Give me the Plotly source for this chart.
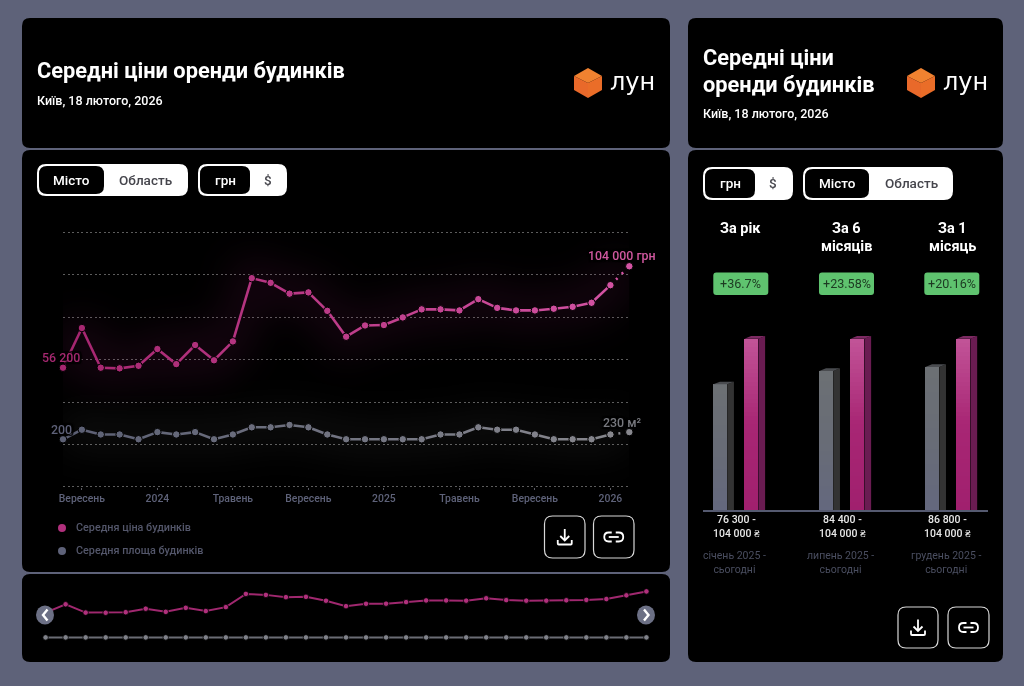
import plotly.graph_objects as go

# data
months = ['2023-08', '2023-09', '2023-10', '2023-11', '2023-12', '2024-01', '2024-02', '2024-03',
          '2024-04', '2024-05', '2024-06', '2024-07', '2024-08', '2024-09', '2024-10', '2024-11',
          '2024-12', '2025-01', '2025-02', '2025-03', '2025-04', '2025-05', '2025-06', '2025-07',
          '2025-08', '2025-09', '2025-10', '2025-11', '2025-12', '2026-01', '2026-02']
price = [56200, 74900, 56200, 55900, 57100, 65000, 57900, 66900, 59700, 68600, 98400, 96200, 91100, 91700,
         83000, 70800, 76100, 76300, 79900, 83700, 83700, 83200, 88500, 84400, 83200, 83200, 84000, 84900,
         86800, 95100, 104000]
area = [200, 240, 220, 220, 200, 230, 220, 230, 200, 220, 250, 250, 260, 250, 220, 200, 200, 200, 200, 200,
        220, 220, 250, 240, 240, 220, 200, 200, 200, 220, 230]
tick_months = ['2023-09', '2024-01', '2024-05', '2024-09', '2025-01', '2025-05', '2025-09', '2026-01']
tick_labels = ['Вересень', '2024', 'Травень', 'Вересень', '2025', 'Травень', 'Вересень', '2026']
y_ticks = [0, 20000, 40000, 60000, 80000, 100000, 120000]

period_titles = [['За рік'], ['За 6', 'місяців'], ['За 1', 'місяць']]
period_changes = ['+36.7%', '+23.58%', '+20.16%']
period_start = [76300, 84400, 86800]
period_end = [104000, 104000, 104000]
period_ranges = ['76 300 -<br>104 000 ₴', '84 400 -<br>104 000 ₴', '86 800 -<br>104 000 ₴']
period_names = ['січень 2025 -<br>сьогодні', 'липень 2025 -<br>сьогодні', 'грудень 2025 -<br>сьогодні']

BG = '#5e6279'
FONT = 'Roboto'
W, H = 1024, 686


def fx(x):
    return x / W


def fy(y):
    return 1 - y / H


def pt(x, y):
    return f'{fx(x):.5f},{fy(y):.5f}'


def rounded(x0, y0, x1, y1, r):
    return ('M' + pt(x0 + r, y0) + ' L' + pt(x1 - r, y0) + ' Q' + pt(x1, y0) + ' ' + pt(x1, y0 + r)
            + ' L' + pt(x1, y1 - r) + ' Q' + pt(x1, y1) + ' ' + pt(x1 - r, y1)
            + ' L' + pt(x0 + r, y1) + ' Q' + pt(x0, y1) + ' ' + pt(x0, y1 - r)
            + ' L' + pt(x0, y0 + r) + ' Q' + pt(x0, y0) + ' ' + pt(x0 + r, y0) + ' Z')


def mix(a, b, t):
    return 'rgb(%d,%d,%d)' % tuple(round(a[i] + (b[i] - a[i]) * t) for i in range(3))


shapes = []
annotations = []


def box(x0, y0, x1, y1, r, fill='#000000', line=None, width=0, layer='below'):
    shapes.append(dict(type='path', path=rounded(x0, y0, x1, y1, r), xref='paper', yref='paper',
                       fillcolor=fill, line=dict(color=line or fill, width=width), layer=layer))


def stroke(path, color='#ffffff', width=1.8, layer='below'):
    shapes.append(dict(type='path', path=path, xref='paper', yref='paper',
                       line=dict(color=color, width=width), layer=layer))


def polygon(points, color, layer='below'):
    path = 'M' + ' L'.join(pt(x, y) for x, y in points) + ' Z'
    shapes.append(dict(type='path', path=path, xref='paper', yref='paper', fillcolor=color,
                       line=dict(color=color, width=0), layer=layer))


def label(x, y, text, size=12, color='#ffffff', weight=400, anchor='left', align=None, shadow=None, family=FONT):
    font = dict(family=family, size=size, color=color, weight=weight)
    if shadow:
        font['shadow'] = shadow
    annotations.append(dict(x=fx(x), y=fy(y), xref='paper', yref='paper', text=text, showarrow=False,
                            xanchor=anchor, yanchor='middle', align=align or anchor, font=font,
                            borderpad=0, borderwidth=0))


def toggle(x0, x1, split, y0, y1, on, off, off_center):
    box(x0, y0, x1, y1, 9, fill='#ffffff')
    box(x0 + 2, y0 + 2, split, y1 - 2, 8, fill='#000000')
    label((x0 + 2 + split) / 2, (y0 + y1) / 2, on, size=13.5, color='#ffffff', weight=500, anchor='center')
    label(off_center, (y0 + y1) / 2, off, size=13.5, color='#45454c', weight=500, anchor='center')


def logo(x, y):
    polygon([(x + 14, y), (x + 28, y + 8), (x + 14, y + 15), (x, y + 8)], '#f08230')
    polygon([(x, y + 8), (x + 14, y + 15), (x + 14, y + 30), (x, y + 22)], '#e9692a')
    polygon([(x + 28, y + 8), (x + 14, y + 15), (x + 14, y + 30), (x + 28, y + 22)], '#ea6d28')
    label(x + 36, y + 14, 'лун', size=24, family='DejaVu Sans')


def download_icon(cx, cy):
    stroke('M' + pt(cx, cy - 8) + ' L' + pt(cx, cy + 3))
    stroke('M' + pt(cx - 4.5, cy - 1) + ' L' + pt(cx, cy + 3.5) + ' L' + pt(cx + 4.5, cy - 1))
    stroke('M' + pt(cx - 7, cy + 3) + ' L' + pt(cx - 7, cy + 6.5) + ' Q' + pt(cx - 7, cy + 7.5) + ' ' + pt(cx - 6, cy + 7.5)
           + ' L' + pt(cx + 6, cy + 7.5) + ' Q' + pt(cx + 7, cy + 7.5) + ' ' + pt(cx + 7, cy + 6.5)
           + ' L' + pt(cx + 7, cy + 3))


def link_icon(cx, cy):
    stroke('M' + pt(cx - 2, cy - 4.5) + ' L' + pt(cx - 5, cy - 4.5) + ' Q' + pt(cx - 9.5, cy - 4.5) + ' ' + pt(cx - 9.5, cy)
           + ' Q' + pt(cx - 9.5, cy + 4.5) + ' ' + pt(cx - 5, cy + 4.5) + ' L' + pt(cx - 2, cy + 4.5))
    stroke('M' + pt(cx + 2, cy - 4.5) + ' L' + pt(cx + 5, cy - 4.5) + ' Q' + pt(cx + 9.5, cy - 4.5) + ' ' + pt(cx + 9.5, cy)
           + ' Q' + pt(cx + 9.5, cy + 4.5) + ' ' + pt(cx + 5, cy + 4.5) + ' L' + pt(cx + 2, cy + 4.5))
    stroke('M' + pt(cx - 5, cy) + ' L' + pt(cx + 5, cy))


# panels
box(22, 18, 670, 148, 8)
box(22, 150, 670, 572, 8)
box(22, 574, 670, 662, 8)
box(688, 18, 1003, 148, 8)
box(688, 150, 1003, 662, 8)

# headers
label(37, 70, 'Середні ціни оренди будинків', size=21.8, weight=700)
label(37, 101, 'Київ, 18 лютого, 2026', size=12.5, weight=500)
logo(574, 68)
label(703, 58, 'Середні ціни', size=21.8, weight=700)
label(703, 84, 'оренди будинків', size=21.8, weight=700)
label(703, 113, 'Київ, 18 лютого, 2026', size=12.5, weight=500)
logo(907, 68)

# switches
toggle(37, 188, 104, 164, 196, 'Місто', 'Область', 145)
toggle(198, 287, 250, 164, 196, 'грн', '$', 268)
toggle(703, 793, 755, 167, 200, 'грн', '$', 773)
toggle(803, 953, 869, 167, 200, 'Місто', 'Область', 911)

# legend
for y, color, text in [(528, '#b0307c', 'Середня ціна будинків'), (551, '#5e6279', 'Середня площа будинків')]:
    shapes.append(dict(type='circle', xref='paper', yref='paper', x0=fx(58), x1=fx(66), y0=fy(y + 4), y1=fy(y - 4),
                       fillcolor=color, line=dict(width=0), layer='below'))
    label(75.5, y - 0.5, text, size=10.8, color='#54576b', weight=500)

# icon buttons
for x0, x1, y0, y1, icon in [(544.5, 585, 516, 558, download_icon), (593.5, 634, 516, 558, link_icon),
                             (898, 938, 607, 648, download_icon), (948, 989, 607, 648, link_icon)]:
    box(x0, y0, x1, y1, 8, fill='#000000', line='#d8d8d8', width=1.2)
    icon((x0 + x1) / 2, (y0 + y1) / 2)

# right panel titles and badges
for i in range(3):
    cx = [740.5, 846.5, 952][i]
    for k, line in enumerate(period_titles[i]):
        label(cx, 228 + 19 * k, line, size=14.5, weight=700, anchor='center')
    bx = [713.3, 819, 924.3][i]
    box(bx, 272.5, bx + 55, 295, 3, fill='#5fc36f')
    label(bx + 27.5, 283.8, period_changes[i], size=12.6, color='#1d3a22', anchor='center')
    label(cx - 4.5, 526.5, period_ranges[i], size=10.5, color='#e8e8e8', weight=500, anchor='center', align='center')
    label(cx - 6.5, 562.5, period_names[i], size=10.5, color='#4a4e60', anchor='center', align='center')

fig = go.Figure()

# main chart: soft glow under the lines, blurred in the page script below
fig.add_trace(go.Scatter(x=months, y=price, mode='lines', cliponaxis=False, hoverinfo='skip',
                         line=dict(color='rgba(190,40,140,0.1)', width=40)))
fig.add_trace(go.Scatter(x=months, y=area, yaxis='y2', mode='lines', cliponaxis=False, hoverinfo='skip',
                         line=dict(color='rgba(255,255,255,0.05)', width=34)))

# main chart: line colour drifts lighter towards the right
series = [(price, 'y', (166, 38, 112), (212, 84, 164), 'Середня ціна будинків'),
          (area, 'y2', (92, 96, 116), (136, 136, 142), 'Середня площа будинків')]
for values, axis, start, end, name in series:
    for i in range(len(months) - 1):
        dash = '2px,6px' if i == len(months) - 2 else 'solid'
        fig.add_trace(go.Scatter(x=months[i:i + 2], y=values[i:i + 2], yaxis=axis, mode='lines', name=name,
                                 cliponaxis=False, hoverinfo='skip',
                                 line=dict(color=mix(start, end, i / 29), width=2.6, dash=dash)))
    fig.add_trace(go.Scatter(x=months, y=values, yaxis=axis, mode='markers', name=name, cliponaxis=False,
                             marker=dict(size=7.5, color=[mix(start, end, i / 30) for i in range(31)],
                                         line=dict(color='#000000', width=1))))

# end labels of the main chart
halo = '2px 2px 1px #000, -2px -2px 1px #000, 2px -2px 1px #000, -2px 2px 1px #000'
label(42, 357, '56 200', size=12.4, color='#a52870', weight=500, shadow=halo)
label(51, 429, '200', size=12.4, color='#5e6178', weight=500, shadow=halo)
label(656, 256, '104 000 грн', size=12.4, color='#d0589f', weight=500, anchor='right', shadow=halo)
label(642, 422, '230 м²', size=12.4, color='#77787e', weight=500, anchor='right', shadow=halo)

# overview strip
fig.add_trace(go.Scatter(x=months, y=price, xaxis='x2', yaxis='y3', mode='lines+markers', cliponaxis=False,
                         line=dict(color='#a0286f', width=2),
                         marker=dict(size=5.5, color='#b0307c', line=dict(color='#000000', width=0.8))))
fig.add_trace(go.Scatter(x=months, y=area, xaxis='x2', yaxis='y3', mode='lines+markers', cliponaxis=False,
                         line=dict(color='#6a6c74', width=2),
                         marker=dict(size=5.5, color='#80828a', line=dict(color='#000000', width=0.8))))
for cx, pts in [(45, [(47.5, 609.5), (43, 615), (47.5, 620.5)]), (646, [(644, 609.5), (648.5, 615), (644, 620.5)])]:
    shapes.append(dict(type='circle', xref='paper', yref='paper', x0=fx(cx - 9), x1=fx(cx + 9), y0=fy(624.5), y1=fy(605.5),
                       fillcolor='#6c7085', line=dict(width=0), layer='above'))
    stroke('M' + ' L'.join(pt(x, y) for x, y in pts), width=2.4, layer='above')

# 3d bars of the right panel, every face comes from the values
BAR_W = 0.132
DEPTH_X = 0.063
DEPTH_Y = 1650
SLICES = 40
PINK_OFFSET = 0.294


def bar_3d(center, value, top_col, mid_col, low_col, side_col, lid_col):
    left, right = center - BAR_W / 2, center + BAR_W / 2
    colors = []
    for i in range(SLICES):
        t = (i + 0.5) / SLICES
        colors.append(mix(mid_col, top_col, (t - 0.5) * 2) if t > 0.5 else mix(low_col, mid_col, t * 2))
    fig.add_trace(go.Bar(x=[center] * SLICES, y=[value / SLICES] * SLICES,
                         base=[value * i / SLICES for i in range(SLICES)], width=BAR_W, xaxis='x3', yaxis='y4',
                         marker=dict(color=colors, line=dict(width=0)), hoverinfo='skip'))
    fig.add_trace(go.Scatter(x=[right, right + DEPTH_X, right + DEPTH_X, right], y=[0, 0, value + DEPTH_Y, value],
                             xaxis='x3', yaxis='y4', mode='lines', fill='toself', fillcolor=side_col,
                             line=dict(width=0), hoverinfo='skip'))
    fig.add_trace(go.Scatter(x=[left, left + DEPTH_X, right + DEPTH_X, right],
                             y=[value, value + DEPTH_Y, value + DEPTH_Y, value],
                             xaxis='x3', yaxis='y4', mode='lines', fill='toself', fillcolor=lid_col,
                             line=dict(width=0), hoverinfo='skip'))


for g in range(3):
    bar_3d(g, period_start[g], (108, 112, 116), (104, 108, 118), (100, 104, 126), '#333333', '#4a4c50')
    bar_3d(g + PINK_OFFSET, period_end[g], (194, 84, 152), (168, 38, 116), (160, 32, 110), '#6a1c52', '#7c2a62')

fig.update_layout(
    width=W,
    height=H,
    margin=dict(l=0, r=0, t=0, b=0, pad=0, autoexpand=False),
    paper_bgcolor=BG,
    plot_bgcolor='rgba(0,0,0,0)',
    showlegend=False,
    barmode='overlay',
    bargap=0,
    font=dict(family=FONT),
    shapes=shapes,
    annotations=annotations,
    xaxis=dict(type='category', categoryorder='array', categoryarray=months, domain=[fx(63), fx(629.3)], range=[0, 30],
               tickmode='array', tickvals=tick_months, ticktext=tick_labels, showgrid=False, zeroline=False,
               ticks='outside', ticklen=2, tickcolor='#5a5a62', tickwidth=1, showline=False,
               tickfont=dict(family=FONT, size=10.4, color='#5e6279', weight=500), anchor='free', position=fy(487)),
    yaxis=dict(domain=[fy(489.1), fy(230.2)], range=[-1000, 121000], tickmode='array', tickvals=y_ticks, showticklabels=False,
               showgrid=True, gridcolor='#5c5c5c', griddash='2px,2.5px', gridwidth=1, zeroline=False, ticks='', anchor='x'),
    yaxis2=dict(domain=[fy(489.1), fy(230.2)], range=[-8.8, 1075.8], overlaying='y', showticklabels=False,
                showgrid=False, zeroline=False, ticks='', anchor='x'),
    xaxis2=dict(type='category', categoryorder='array', categoryarray=months, domain=[fx(45.6), fx(646.4)], range=[0, 30],
                visible=False, anchor='y3'),
    yaxis3=dict(domain=[fy(640), fy(585)], range=[-5640, 118500], visible=False, anchor='x2'),
    xaxis3=dict(domain=[fx(703.3), fx(988.3)], range=[-0.16, 2.528], showticklabels=False, showgrid=False, zeroline=False,
                showline=True, linecolor='#555a70', linewidth=1.5, ticks='', anchor='y4'),
    yaxis4=dict(domain=[fy(510.3), fy(320)], range=[0, 115300], visible=False, anchor='x3'),
)

page_script = """
document.body.style.margin='0';
document.body.style.overflow='hidden';
document.querySelectorAll('.scatterlayer .js-line').forEach(function (p) {
  if (parseFloat(p.style.strokeWidth) > 30) { p.style.filter = 'blur(18px)'; }
});
document.body.style.filter = 'blur(0.4px)';
"""
fig.write_html('out.html', config={'displayModeBar': False}, post_script=page_script)
